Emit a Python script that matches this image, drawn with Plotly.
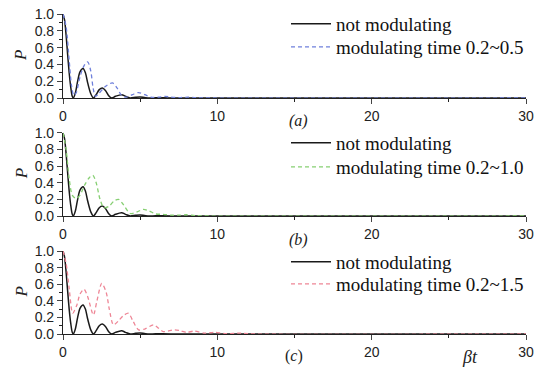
import plotly.graph_objects as go

# ---- data ----
t_base = [0, 0.1, 0.2, 0.3, 0.4, 0.5, 0.6, 0.67, 0.8, 0.95, 1.1, 1.3, 1.45, 1.6, 1.8, 1.97,
          2.15, 2.35, 2.55, 2.75, 2.95, 3.16, 3.4, 3.8, 4.05, 4.35, 4.7, 5.0, 5.3, 5.6, 6.0, 7.0, 30]
p_base = [1.0, 0.93, 0.75, 0.52, 0.3, 0.13, 0.02, 0.0, 0.06, 0.2, 0.31, 0.35, 0.3, 0.18, 0.05, 0.0,
          0.04, 0.1, 0.12, 0.09, 0.03, 0.0, 0.02, 0.04, 0.02, 0.0, 0.008, 0.012, 0.005, 0.0, 0.003, 0.0, 0.0]

t_a = [0, 0.2, 0.4, 0.55, 0.7, 0.85, 1.1, 1.35, 1.6, 1.8, 1.95, 2.1, 2.3, 2.7, 3.2, 3.5, 3.8,
       4.1, 4.5, 4.9, 5.3, 5.7, 6.2, 6.6, 7.0, 7.6, 8.1, 8.6, 9.5, 30]
p_a = [1.0, 0.85, 0.45, 0.15, 0.03, 0.06, 0.25, 0.38, 0.43, 0.32, 0.12, 0.02, 0.05, 0.13, 0.18, 0.12, 0.03,
       0.01, 0.04, 0.065, 0.04, 0.01, 0.01, 0.02, 0.01, 0.005, 0.01, 0.003, 0.0, 0.0]

t_b = [0, 0.2, 0.4, 0.6, 0.85, 1.1, 1.4, 1.7, 1.93, 2.15, 2.4, 2.65, 3.0, 3.3, 3.6, 3.9, 4.35,
       4.8, 5.2, 5.6, 6.0, 6.5, 7.0, 7.5, 8.0, 8.6, 9.5, 30]
p_b = [1.0, 0.8, 0.45, 0.25, 0.21, 0.25, 0.37, 0.46, 0.49, 0.4, 0.2, 0.1, 0.12, 0.18, 0.2, 0.14, 0.03,
       0.05, 0.08, 0.06, 0.025, 0.02, 0.01, 0.01, 0.015, 0.005, 0.0, 0.0]

t_c = [0, 0.2, 0.4, 0.63, 0.9, 1.1, 1.36, 1.6, 1.97, 2.2, 2.51, 2.8, 3.0, 3.27, 3.6, 3.9, 4.24,
       4.55, 4.9, 5.3, 5.87, 6.2, 6.5, 7.2, 7.6, 8.0, 8.5, 9.2, 9.8, 10.5, 11.5, 12.5, 30]
p_c = [1.0, 0.85, 0.55, 0.25, 0.35, 0.48, 0.54, 0.45, 0.23, 0.4, 0.61, 0.5, 0.3, 0.11, 0.16, 0.22, 0.25,
       0.15, 0.05, 0.06, 0.11, 0.07, 0.03, 0.05, 0.04, 0.02, 0.035, 0.01, 0.02, 0.005, 0.01, 0.0, 0.0]

label_base = "not modulating"
labels_mod = ["modulating time 0.2~0.5", "modulating time 0.2~1.0", "modulating time 0.2~1.5"]
colors_mod = ["#6f80dc", "#86cf72", "#ee8595"]
x_ticks = [0, 10, 20, 30]
y_ticks = [0.0, 0.2, 0.4, 0.6, 0.8, 1.0]
panel_tags = ["<i>(a)</i>", "<i>(b)</i>", "(<i>c</i>)"]

W, H = 539, 371
def py(p):
    return 1 - p / H
def px(p):
    return p / W

mods = [(t_a, p_a), (t_b, p_b), (t_c, p_c)]
ydoms = [(14, 98), (132.7, 216), (251, 334)]
leg_rows = [(24, 47), (143, 167), (262, 284)]
xdom = [px(63), px(526)]

fig = go.Figure()
serif = "Liberation Serif"
sans = "Liberation Sans"
for i in range(3):
    sfx = "" if i == 0 else str(i + 1)
    leg1 = "legend" if i == 0 else "legend" + str(2 * i + 1)
    leg2 = "legend" + str(2 * i + 2)
    fig.add_trace(go.Scatter(x=t_base, y=p_base, mode="lines", name=label_base,
                             line=dict(color="#1a1a1a", width=1.5, shape="spline", smoothing=0.8),
                             xaxis="x" + sfx, yaxis="y" + sfx, legend=leg1))
    tm, pm = mods[i]
    fig.add_trace(go.Scatter(x=tm, y=pm, mode="lines", name=labels_mod[i],
                             line=dict(color=colors_mod[i], width=1.3, dash="4px,3px", shape="spline", smoothing=0.8),
                             xaxis="x" + sfx, yaxis="y" + sfx, legend=leg2))
    top, bot = ydoms[i]
    axx = dict(domain=xdom, range=[0, 30], tickvals=x_ticks, ticks="outside", ticklen=5,
               tickwidth=1.2, showline=True, linecolor="#222", linewidth=1.2, showgrid=False,
               zeroline=False, tickfont=dict(family=sans, size=14, color="#222"), automargin=False,
               minor=dict(dtick=5, tick0=0, ticks="outside", ticklen=3, tickcolor="#222"),
               anchor="y" + sfx)
    axy = dict(domain=[py(bot), py(top)], range=[0, 1.0], tickvals=y_ticks, tickformat=".1f",
               ticks="outside", ticklen=5, tickwidth=1.2, showline=True, linecolor="#222",
               linewidth=1.2, showgrid=False, zeroline=False, automargin=False,
               tickfont=dict(family=sans, size=14, color="#222"),
               minor=dict(dtick=0.1, tick0=0, ticks="outside", ticklen=3, tickcolor="#222"),
               anchor="x" + sfx)
    fig.update_layout({"xaxis" + sfx: axx, "yaxis" + sfx: axy})
    for leg, row in zip((leg1, leg2), leg_rows[i]):
        fig.update_layout({leg: dict(x=px(286), y=py(row), xanchor="left", yanchor="middle",
                                     bgcolor="rgba(0,0,0,0)", font=dict(family=serif, size=19, color="#111"),
                                     itemwidth=40, tracegroupgap=0)})
    fig.add_annotation(text="<i>P</i>", x=px(21), y=py((top + bot) / 2), xref="paper", yref="paper",
                       xanchor="center", yanchor="middle",
                       showarrow=False, textangle=-90, font=dict(family=serif, size=17, color="#222"))

tag_pos = [(298, 121), (298, 240), (294, 356)]
for (xp, yp), tag in zip(tag_pos, panel_tags):
    fig.add_annotation(text=tag, x=px(xp), y=py(yp), xref="paper", yref="paper", showarrow=False,
                       xanchor="center", yanchor="middle",
                       font=dict(family=serif, size=16, color="#222"))
fig.add_annotation(text="<i>βt</i>", x=px(470), y=py(357), xref="paper", yref="paper", showarrow=False,
                   xanchor="center", yanchor="middle",
                   font=dict(family=serif, size=18, color="#222"))

fig.update_layout(width=W, height=H, margin=dict(l=0, r=0, t=0, b=0, autoexpand=False),
                  paper_bgcolor="white", plot_bgcolor="white", showlegend=True)
fig.write_html("out.html")
